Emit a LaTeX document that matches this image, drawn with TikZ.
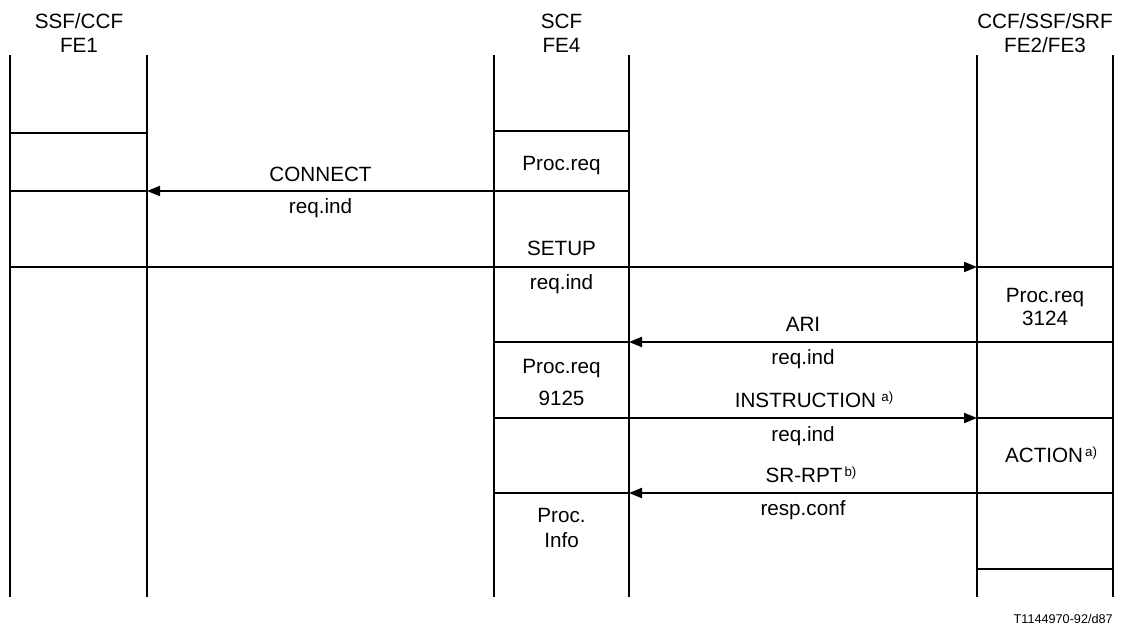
\documentclass[tikz,border=0pt]{standalone}
\usepackage{fontspec}
\setmainfont{Liberation Sans}
\usetikzlibrary{arrows.meta}
\newcommand{\supnote}[1]{\raisebox{4.5pt}{\fontsize{10}{10}\selectfont #1}}
\begin{document}
\begin{tikzpicture}[x=0.75pt,y=-0.75pt,
  lifeline/.style={line width=1.5pt},
  sepline/.style={line width=1.5pt},
  msg/.style={line width=1.5pt,-{Triangle[length=9.75pt,width=7.5pt]}},
  lbl/.style={anchor=base,inner sep=0pt,font=\fontsize{15.5}{18}\selectfont},
  note/.style={anchor=base east,inner sep=0pt,font=\fontsize{9.5}{11}\selectfont}]
\useasboundingbox (0,0) rectangle (1123,628);
% lifelines
\coordinate (a1t) at (10,55);   \coordinate (a1b) at (10,597);
\coordinate (a2t) at (147,55);  \coordinate (a2b) at (147,597);
\coordinate (b1t) at (494,55);  \coordinate (b1b) at (494,597);
\coordinate (b2t) at (629,55);  \coordinate (b2b) at (629,597);
\coordinate (c1t) at (977,55);  \coordinate (c1b) at (977,597);
\coordinate (c2t) at (1113,55); \coordinate (c2b) at (1113,597);
\foreach \l in {a1,a2,b1,b2,c1,c2} \draw[lifeline] (\l t) -- (\l b);
% rows
\coordinate (rA) at (0,133);
\coordinate (rB) at (0,131);
\coordinate (r1) at (0,191);
\coordinate (r2) at (0,267);
\coordinate (r3) at (0,342);
\coordinate (r4) at (0,418);
\coordinate (r5) at (0,493);
\coordinate (r6) at (0,569);
% separators and messages
\draw[sepline] (a1t |- rA) -- (a2t |- rA);
\draw[sepline] (b1t |- rB) -- (b2t |- rB);
\draw[sepline] (a1t |- r1) -- (a2t |- r1);
\draw[msg] (b1t |- r1) -- (a2t |- r1);
\draw[sepline] (b1t |- r1) -- (b2t |- r1);
\draw[sepline] (a1t |- r2) -- (b1t |- r2);
\draw[msg] (b1t |- r2) -- (c1t |- r2);
\draw[sepline] (c1t |- r2) -- (c2t |- r2);
\draw[sepline] (b1t |- r3) -- (b2t |- r3);
\draw[msg] (c1t |- r3) -- (b2t |- r3);
\draw[sepline] (c1t |- r3) -- (c2t |- r3);
\draw[sepline] (b1t |- r4) -- (b2t |- r4);
\draw[msg] (b2t |- r4) -- (c1t |- r4);
\draw[sepline] (c1t |- r4) -- (c2t |- r4);
\draw[sepline] (b1t |- r5) -- (b2t |- r5);
\draw[msg] (c1t |- r5) -- (b2t |- r5);
\draw[sepline] (c1t |- r5) -- (c2t |- r5);
\draw[sepline] (c1t |- r6) -- (c2t |- r6);
% headers
\node[lbl] (h1a) at (79,28) {SSF/CCF};
\node[lbl] (h1b) at (79,52) {FE1};
\node[lbl] (h2a) at (561.5,28) {SCF};
\node[lbl] (h2b) at (561.5,52) {FE4};
\node[lbl] (h3a) at (1045,28) {CCF/SSF/SRF};
\node[lbl] (h3b) at (1045,52) {FE2/FE3};
% box texts
\node[lbl] (p1) at (561.5,170) {Proc.req};
\node[lbl] (p2a) at (1045,302) {Proc.req};
\node[lbl] (p2b) at (1045,325) {3124};
\node[lbl] (p3a) at (561.5,373) {Proc.req};
\node[lbl] (p3b) at (561.5,405.5) {9125};
\node[lbl] (p4) at (1051,462) {ACTION\kern1.5pt\supnote{a)}};
\node[lbl] (p5a) at (561.5,522) {Proc.};
\node[lbl] (p5b) at (561.5,547) {Info};
% message labels
\node[lbl] (m1a) at (320.5,181) {CONNECT};
\node[lbl] (m1b) at (320.5,213) {req.ind};
\node[lbl] (m2a) at (561.5,255.5) {SETUP};
\node[lbl] (m2b) at (561.5,289.5) {req.ind};
\node[lbl] (m3a) at (803,331) {ARI};
\node[lbl] (m3b) at (803,364) {req.ind};
\node[lbl] (m4a) at (814,407) {INSTRUCTION\kern4pt\supnote{a)}};
\node[lbl] (m4b) at (803,441) {req.ind};
\node[lbl] (m5a) at (811,482) {SR-RPT\kern1.5pt\supnote{b)}};
\node[lbl] (m5b) at (803,515) {resp.conf};
% figure id
\node[note] (fid) at (1113,623) {T1144970-92/d87};
\end{tikzpicture}
\end{document}
